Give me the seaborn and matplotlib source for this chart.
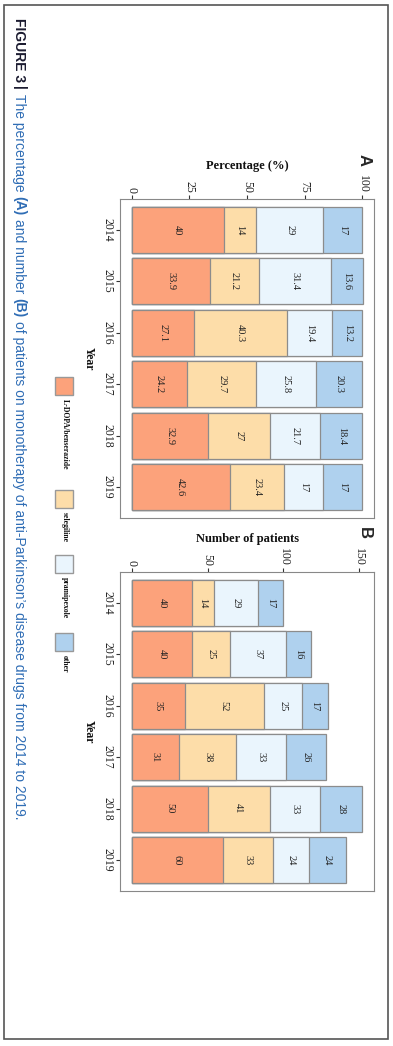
import matplotlib
matplotlib.use('Agg')
import matplotlib.pyplot as plt
import seaborn as sns
import pandas as pd
import numpy as np
from matplotlib.patches import Rectangle

# ---------------- data ----------------
years = ['2014', '2015', '2016', '2017', '2018', '2019']
drugs = ['L-DOPA/benserazide', 'selegiline', 'pramipexole', 'other']

pct_ldopa = [40, 33.9, 27.1, 24.2, 32.9, 42.6]
pct_seleg = [14, 21.2, 40.3, 29.7, 27, 23.4]
pct_prami = [29, 31.4, 19.4, 25.8, 21.7, 17]
pct_other = [17, 13.6, 13.2, 20.3, 18.4, 17]

n_ldopa = [40, 40, 35, 31, 50, 60]
n_seleg = [14, 25, 52, 38, 41, 33]
n_prami = [29, 37, 25, 33, 33, 24]
n_other = [17, 16, 17, 26, 28, 24]

pct_ticks = [0, 25, 50, 75, 100]
n_ticks = [0, 50, 100, 150]

colors = ['#FCA27B', '#FDDDA9', '#EAF5FD', '#AFD1EE']
EDGE = '#8C8C8C'

# ---------------- style ----------------
sns.set_theme(style='white')
plt.rcParams['font.family'] = ['Liberation Serif', 'DejaVu Serif']

W, H = 393, 1046
fig = plt.figure(figsize=(W / 100, H / 100), dpi=100)


def fx(px):
    return px / W


def fy(py):
    return 1 - py / H


def draw_panel(ax, series, ticks, xlim, xlabel):
    arr = np.array(series, dtype=float)
    cum = np.cumsum(arr, axis=0)
    for i in reversed(range(len(series))):
        df = pd.DataFrame({'Year': years, 'value': cum[i]})
        sns.barplot(data=df, x='value', y='Year', order=years, orient='h',
                    color=colors[i], saturation=1, width=0.9,
                    edgecolor=EDGE, linewidth=0.9, errorbar=None, ax=ax)
    for i in range(len(series)):
        for j in range(len(years)):
            v = arr[i, j]
            ax.text(cum[i, j] - v / 2, j, f'{v:g}', rotation=270,
                    ha='center', va='center', fontsize=7.5, color='#222222')
    ax.set_xlim(*xlim)
    ax.set_ylim(len(years) - 0.4, -0.6)
    ax.xaxis.tick_top()
    ax.xaxis.set_label_position('top')
    ax.set_xticks(ticks)
    ax.set_xticklabels([str(t) for t in ticks], rotation=270, va='bottom', ha='center')
    ax.set_yticks(range(len(years)))
    ax.set_yticklabels(years, rotation=270, va='center', ha='right')
    ax.tick_params(axis='both', which='both', top=True, bottom=False, left=True,
                   right=False, length=3, width=0.8, color='#333333',
                   labelsize=8.5, pad=1.5, labelcolor='#222222')
    ax.set_xlabel(xlabel, fontweight='bold', fontsize=9, labelpad=4, color='#111111')
    ax.set_ylabel('Year', rotation=270, va='top', fontweight='bold', fontsize=8.5,
                  labelpad=5, color='#111111')
    for s in ax.spines.values():
        s.set_color('#888888')
        s.set_linewidth(0.8)
        s.set_visible(True)
    ax.set_facecolor('white')


axA = fig.add_axes([fx(120), fy(518), fx(374) - fx(120), fy(199) - fy(518)])
draw_panel(axA, [pct_ldopa, pct_seleg, pct_prami, pct_other], pct_ticks,
           (-5, 105), 'Percentage (%)')

axB = fig.add_axes([fx(120), fy(891), fx(374) - fx(120), fy(572) - fy(891)])
draw_panel(axB, [n_ldopa, n_seleg, n_prami, n_other], n_ticks,
           (-7.6, 159.6), 'Number of patients')

# panel letters
fig.text(fx(364), fy(160), 'A', rotation=270, ha='center', va='center',
         fontsize=12, fontweight='bold', family=['Liberation Sans', 'DejaVu Sans'])
fig.text(fx(364), fy(533), 'B', rotation=270, ha='center', va='center',
         fontsize=12, fontweight='bold', family=['Liberation Sans', 'DejaVu Sans'])

# legend (manual, rotated)
key_tops = [377, 490, 555, 633]
key_size = 18
for k, top in enumerate(key_tops):
    fig.patches.append(Rectangle((fx(55), fy(top + key_size)), fx(key_size), key_size / H,
                                 transform=fig.transFigure, facecolor=colors[k],
                                 edgecolor='#999999', linewidth=1.0))
    fig.text(fx(64.5), fy(top + key_size + 4), drugs[k], rotation=270, ha='center',
             va='top', fontsize=5.6, fontweight='bold', color='#111111')

# caption
renderer = fig.canvas.get_renderer()
blue = '#2F6DB5'
dark = '#1B1B30'
pieces = [
    ('FIGURE 3', 'bold', dark, True),
    ('|', 'bold', dark, True),
    ('The percentage', 'normal', blue, True),
    ('(A)', 'bold', blue, True),
    ('and number', 'normal', blue, True),
    ('(B)', 'bold', blue, True),
    ("of patients on monotherapy of anti-Parkinson\u2019s disease drugs from 2014 to 2019.",
     'normal', blue, False),
]
cap_size = 10.0
space_px = 0.30 * cap_size * 100 / 72
ypos = 18
for txt, wt, col, sp in pieces:
    t = fig.text(fx(19), fy(ypos), txt, rotation=270, ha='center', va='top',
                 fontsize=cap_size, fontweight=wt, color=col,
                 family=['Liberation Sans', 'DejaVu Sans'])
    bb = t.get_window_extent(renderer=renderer)
    ypos += bb.height + (space_px if sp else 0)

# outer frame
fig.patches.append(Rectangle((fx(4), fy(1039)), fx(388) - fx(4), fy(5) - fy(1039),
                             transform=fig.transFigure, fill=False,
                             edgecolor='#555555', linewidth=1.2))

fig.savefig('out.png', dpi=100)
